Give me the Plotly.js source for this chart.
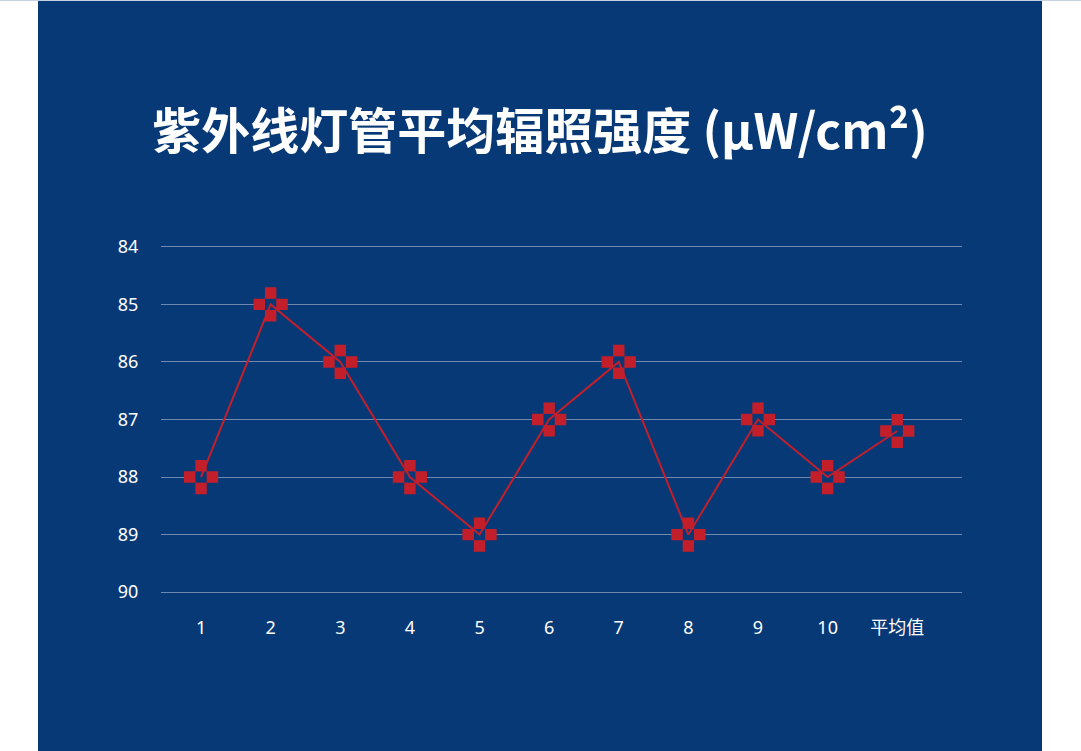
<!DOCTYPE html>
<html>
<head>
<meta charset="utf-8">
<script src="https://cdn.plot.ly/plotly-3.0.1.min.js"></script>
<style>
  html, body { margin: 0; padding: 0; background: #ffffff; }
  #page { position: relative; width: 1081px; height: 751px; border-top: 1px solid #c6d2e4; box-sizing: border-box; }
  #chart { position: absolute; left: 38px; top: 0; width: 1004px; height: 750px; }
</style>
</head>
<body>
<div id="page"><div id="chart"></div></div>
<script>
// categories and readings (µW/cm²)
var lamps = ["1", "2", "3", "4", "5", "6", "7", "8", "9", "10", "平均值"];
var irradiance = [88, 85, 86, 88, 89, 87, 86, 89, 87, 88, 87.2];
var yTicks = [84, 85, 86, 87, 88, 89, 90];

var navy = "#083977";
var red = "#c31f2a";

// red cross marker
var crossTrace = {
  x: lamps, y: irradiance,
  type: "scatter", mode: "markers",
  marker: { symbol: "cross", size: 28.5, color: red },
  hoverinfo: "skip"
};
// hollow middle of the cross
var holeTrace = {
  x: lamps, y: irradiance,
  type: "scatter", mode: "markers",
  marker: { symbol: "square", size: 11.2, color: navy },
  hoverinfo: "skip"
};
// the joining line, same red so it only shows where the marker is hollow
var lineTrace = {
  x: lamps, y: irradiance,
  type: "scatter", mode: "lines",
  line: { color: red, width: 2 }
};

var layout = {
  width: 1004, height: 750,
  paper_bgcolor: navy, plot_bgcolor: navy,
  showlegend: false,
  margin: { l: 123, r: 80, t: 243, b: 156 },
  font: { family: "Noto Sans, Noto Sans CJK SC, sans-serif", color: "#ffffff" },
  title: {
    text: "紫外线灯管平均辐照强度 (µW/cm²)",
    font: { family: "Noto Sans CJK SC, Noto Sans, sans-serif", size: 49, color: "#ffffff", weight: 700 },
    x: 0.5, xanchor: "center",
    y: 0.826, yref: "container", yanchor: "middle"
  },
  xaxis: {
    type: "category",
    range: [-0.575, 10.93],
    showgrid: false, zeroline: false, showline: false,
    ticks: "outside", ticklen: 16, tickcolor: "rgba(0,0,0,0)",
    tickfont: { size: 18, color: "#ffffff", family: "Noto Sans, Noto Sans CJK SC, sans-serif" },
    fixedrange: true
  },
  yaxis: {
    range: [90.05, 83.95],
    tickvals: yTicks,
    showgrid: true, gridcolor: "#6f88b0", gridwidth: 1,
    zeroline: false, showline: false,
    ticks: "outside", ticklen: 18, tickcolor: "rgba(0,0,0,0)",
    tickfont: { size: 18, color: "#ffffff", family: "Noto Sans, sans-serif" },
    fixedrange: true
  }
};

Plotly.newPlot("chart", [crossTrace, holeTrace, lineTrace], layout, { displayModeBar: false, staticPlot: true });
</script>
</body>
</html>
